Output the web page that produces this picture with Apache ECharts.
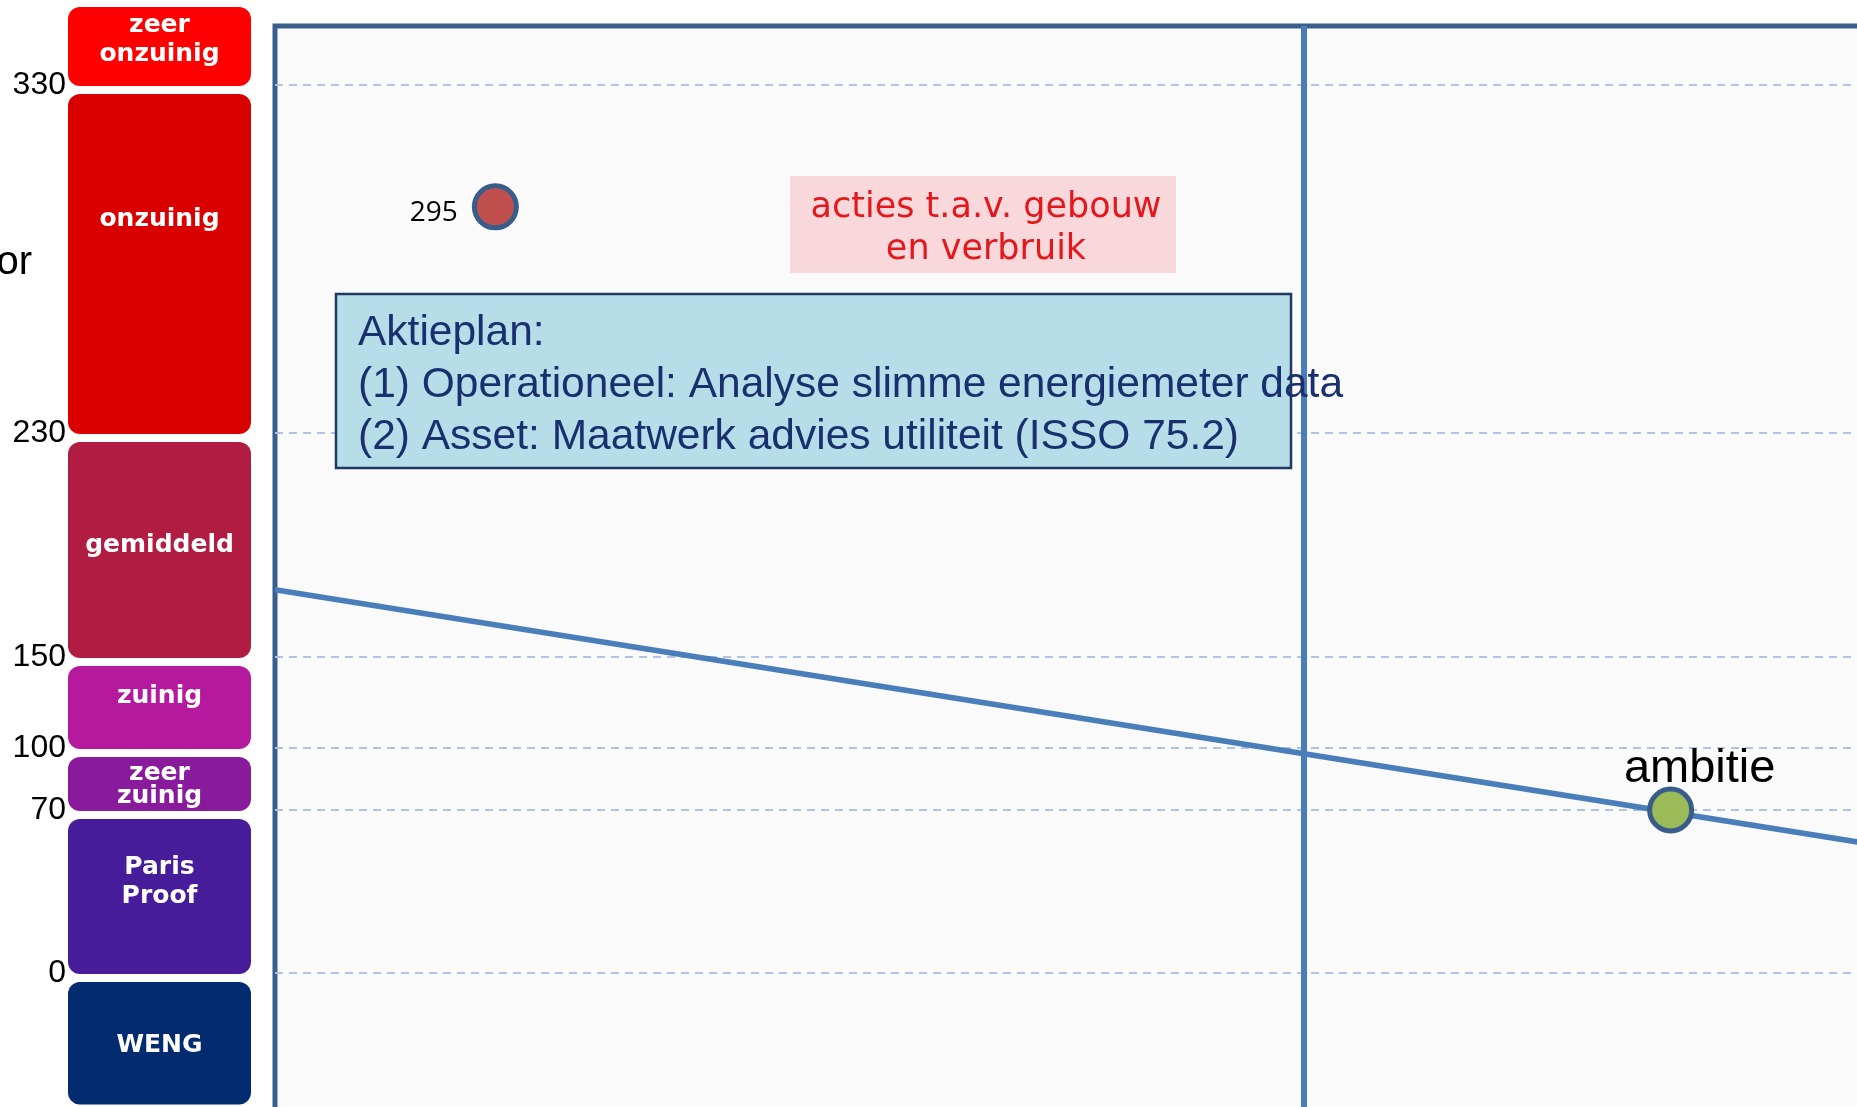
<!DOCTYPE html>
<html>
<head>
<meta charset="utf-8">
<title>energielabel</title>
<script src="https://cdn.jsdelivr.net/npm/echarts@6.0.0/dist/echarts.min.js"></script>
<style>
	html, body { margin: 0; padding: 0; background: #ffffff; }
	#chart { width: 1857px; height: 1107px; }
</style>
</head>
<body>
<div id="chart"></div>
<script>
// y-as labels (kWh/m2) en waar de labelbalk ze neerzet (as-eenheden)
var yTicks = [0, 70, 100, 150, 230, 330];
var yTickPos = [0, 163, 225, 316, 540, 888];

// labelbalk links
var bandNames = ['zeer\nonzuinig', 'onzuinig', 'gemiddeld', 'zuinig', 'zeer\nzuinig', 'Paris\nProof', 'WENG'];
var bandFrom = [330, 230, 150, 100, 70, 0, -56];
var bandTo = [355, 330, 230, 150, 100, 70, 0];

// trendlijn
var trendYears = [2016, 2038];
var trendValues = [174, 54];
var markerYear = 2030;

// punten
var currentYear = 2019;
var currentValue = 295;
var ambitionYear = 2035;
var ambitionValue = 70;
var ambitionName = 'ambitie';

var bandColors = ['#fe0000', '#d90000', '#b01c42', '#b5199d', '#8a1a9c', '#471c9b', '#032b70'];
var bandLabelDy = [-7, -45, -5, -11, 1, -15, 2];
var bandLineHeight = [29, 29, 29, 29, 23, 29, 29];

// waarde -> positie op de (niet lineaire) as
function toPos(v) {
	var i = 1;
	while (i < yTicks.length - 1 && v > yTicks[i]) {
		i++;
	}
	var v0 = yTicks[i - 1], v1 = yTicks[i];
	var p0 = yTickPos[i - 1], p1 = yTickPos[i];
	return p0 + (v - v0) * (p1 - p0) / (v1 - v0);
}

function tickLabel(pos) {
	for (var i = 0; i < yTickPos.length; i++) {
		if (Math.abs(yTickPos[i] - pos) < 0.5) {
			return String(yTicks[i]);
		}
	}
	return '';
}

var bandData = [];
for (var i = 0; i < bandNames.length; i++) {
	bandData.push([0, toPos(bandFrom[i]), toPos(bandTo[i])]);
}

var trendData = [];
for (var j = 0; j < trendYears.length; j++) {
	trendData.push([trendYears[j], toPos(trendValues[j])]);
}

function renderBand(params, api) {
	var idx = params.dataIndex;
	var topLeft = api.coord([0, api.value(2)]);
	var bottomRight = api.coord([1, api.value(1)]);
	// witte ruimte tussen de blokken valt net onder de rasterlijn
	var x = topLeft[0], y = topLeft[1] + 9;
	var w = bottomRight[0] - topLeft[0];
	var h = bottomRight[1] + 1 - y;
	return {
		type: 'group',
		children: [{
			type: 'rect',
			shape: { x: x, y: y, width: w, height: h, r: 12 },
			style: { fill: bandColors[idx] }
		}, {
			type: 'text',
			style: {
				text: bandNames[idx],
				x: x + w / 2,
				y: y + h / 2 + bandLabelDy[idx],
				fill: '#ffffff',
				font: 'bold 25px "DejaVu Sans"',
				align: 'center',
				verticalAlign: 'middle',
				lineHeight: bandLineHeight[idx]
			}
		}]
	};
}

var myChart = echarts.init(document.getElementById('chart'));

var option = {
	animation: false,
	backgroundColor: '#ffffff',
	grid: [{
		left: 275, top: 26, width: 1616, height: 1101,
		outerBoundsMode: 'none',
		show: true,
		backgroundColor: '#fafafa',
		borderColor: '#3a5f8c',
		borderWidth: 5
	}, {
		left: 68, top: 26, width: 183, height: 1101,
		outerBoundsMode: 'none'
	}],
	xAxis: [{
		type: 'value', gridIndex: 0, min: 2016, max: 2038, show: false
	}, {
		type: 'value', gridIndex: 1, min: 0, max: 1, show: false
	}],
	yAxis: [{
		type: 'value', gridIndex: 0, min: -154, max: 947,
		axisLine: { show: false },
		axisLabel: { show: false },
		axisTick: { show: false, customValues: yTickPos },
		splitLine: {
			show: true,
			lineStyle: { color: '#b0c3e6', width: 2, type: [8, 6] }
		}
	}, {
		type: 'value', gridIndex: 1, min: -154, max: 947,
		axisLine: { show: false },
		axisTick: { show: false },
		splitLine: { show: false },
		axisLabel: {
			customValues: yTickPos,
			formatter: tickLabel,
			margin: 2,
			color: '#000000',
			fontSize: 32,
			fontFamily: '"Liberation Sans", Arial, sans-serif'
		}
	}],
	series: [{
		type: 'custom',
		xAxisIndex: 1,
		yAxisIndex: 1,
		renderItem: renderBand,
		encode: { x: 0, y: [1, 2] },
		data: bandData
	}, {
		type: 'line',
		xAxisIndex: 0,
		yAxisIndex: 0,
		data: trendData,
		showSymbol: false,
		lineStyle: { color: '#4a7ebb', width: 5.5 },
		z: 3,
		markLine: {
			silent: true,
			symbol: ['none', 'none'],
			label: { show: false },
			lineStyle: { color: '#4a7ebb', width: 6, type: 'solid' },
			data: [{ xAxis: markerYear }]
		}
	}, {
		type: 'scatter',
		xAxisIndex: 0,
		yAxisIndex: 0,
		z: 4,
		symbolSize: 42,
		itemStyle: { color: '#c0504d', borderColor: '#385d8a', borderWidth: 5, opacity: 1 },
		label: {
			show: true,
			position: 'left',
			distance: 14,
			offset: [0, 6],
			formatter: function(p) { return String(currentValue); },
			color: '#000000',
			fontSize: 28,
			fontFamily: '"Open Sans", sans-serif'
		},
		data: [[currentYear, toPos(currentValue)]]
	}, {
		type: 'scatter',
		xAxisIndex: 0,
		yAxisIndex: 0,
		z: 4,
		symbolSize: 42,
		itemStyle: { color: '#9bbb59', borderColor: '#385d8a', borderWidth: 5, opacity: 1 },
		label: {
			show: true,
			position: 'top',
			distance: 0,
			offset: [29, 6],
			formatter: ambitionName,
			color: '#000000',
			fontSize: 47,
			fontFamily: '"Liberation Sans", Arial, sans-serif'
		},
		data: [[ambitionYear, toPos(ambitionValue)]]
	}],
	graphic: [{
		type: 'text',
		x: 32, y: 263,
		style: {
			text: 'or',
			font: '40px "Liberation Sans", Arial, sans-serif',
			fill: '#000000',
			align: 'right',
			verticalAlign: 'middle'
		}
	}, {
		type: 'rect',
		z: 10,
		shape: { x: 790, y: 176, width: 386, height: 97 },
		style: { fill: '#f9d8db' }
	}, {
		type: 'text',
		z: 11,
		x: 986, y: 229,
		style: {
			text: 'acties t.a.v. gebouw\nen verbruik',
			font: '35px "DejaVu Sans", sans-serif',
			fill: '#e3171c',
			align: 'center',
			verticalAlign: 'middle',
			lineHeight: 42
		}
	}, {
		type: 'rect',
		z: 10,
		shape: { x: 336, y: 294, width: 955, height: 174 },
		style: { fill: '#b7dee8', stroke: '#1f3864', lineWidth: 2.5 }
	}, {
		type: 'text',
		z: 11,
		x: 358, y: 385,
		style: {
			text: 'Aktieplan:\n(1) Operationeel: Analyse slimme energiemeter data\n(2) Asset: Maatwerk advies utiliteit (ISSO 75.2)',
			font: '42.5px "Liberation Sans", Arial, sans-serif',
			fill: '#1a2f6e',
			align: 'left',
			verticalAlign: 'middle',
			lineHeight: 52
		}
	}]
};

myChart.setOption(option);
</script>
</body>
</html>
